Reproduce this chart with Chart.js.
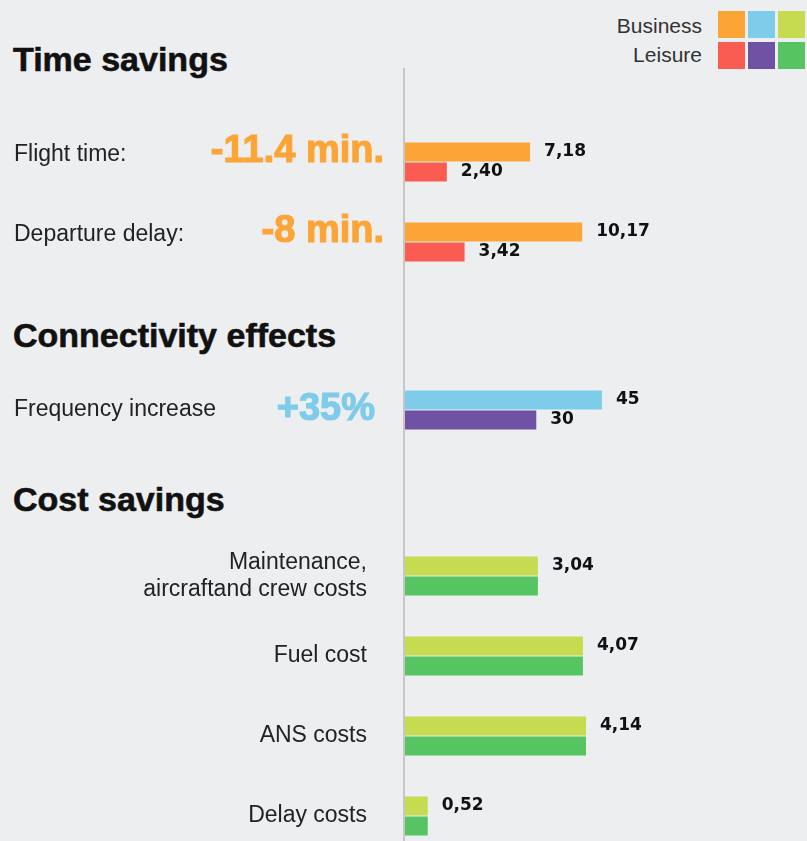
<!DOCTYPE html>
<html>
<head>
<meta charset="utf-8">
<script src="https://cdn.jsdelivr.net/npm/chart.js@4"></script>
<style>
  html, body { margin: 0; padding: 0; overflow: hidden; background: #EDEEF0; }
  #page { position: relative; width: 807px; height: 841px; overflow: hidden; background: #EDEEF0;
          font-family: 'Liberation Sans', Arial, sans-serif; color: #222; }
  .heading { position: absolute; left: 13px; font-weight: bold; font-size: 34px; line-height: 34px; color: #111;
             white-space: nowrap; -webkit-text-stroke: 0.6px #111; }
  .legend-text { position: absolute; right: 105px; font-size: 21px; line-height: 21px; color: #333; }
  .swatch { position: absolute; width: 27px; height: 27px; }
  .rule { position: absolute; left: 403px; top: 68px; width: 2px; height: 773px; background: #C6C6C6; }
  canvas { position: absolute; left: 0; }
</style>
</head>
<body>
<div id="page">
  <div class="rule"></div>
  <div class="heading" style="top:42px">Time savings</div>
  <div class="heading" style="top:318px">Connectivity effects</div>
  <div class="heading" style="top:482px">Cost savings</div>
  <div class="legend-text" style="top:15px">Business</div>
  <div class="legend-text" style="top:44px">Leisure</div>
  <div id="legend"></div>
  <canvas id="timeChart" width="807" height="160" style="top:122px"></canvas>
  <canvas id="connChart" width="807" height="80" style="top:370px"></canvas>
  <canvas id="costChart" width="807" height="320" style="top:536px"></canvas>
</div>
<script>
// --- data ---
const timeLabels = ["Flight time:", "Departure delay:"];
const timeBusiness = [7.18, 10.17];
const timeLeisure = [2.40, 3.42];
const timeHeadline = ["-11.4 min.", "-8 min."];

const connLabels = ["Frequency increase"];
const connBusiness = [45];
const connLeisure = [30];
const connHeadline = ["+35%"];

const costLabels = [["Maintenance,", "aircraftand crew costs"], "Fuel cost", "ANS costs", "Delay costs"];
const costBusiness = [3.04, 4.07, 4.14, 0.52];
const costLeisure = [3.04, 4.07, 4.14, 0.52];

const businessColors = ["#FCA537", "#7FCBEA", "#C6DB4F"];
const leisureColors = ["#FA5C52", "#7052A5", "#55C461"];

Chart.defaults.font.family = "'Liberation Sans', Arial, sans-serif";
Chart.defaults.animation = false;

// legend swatches
const legend = document.getElementById("legend");
[businessColors, leisureColors].forEach((row, r) => {
    row.forEach((c, i) => {
        const d = document.createElement("div");
        d.className = "swatch";
        d.style.left = (718 + i * 30) + "px";
        d.style.top = (11 + r * 31) + "px";
        d.style.background = c;
        legend.appendChild(d);
    });
});

// value labels + big headline numbers
const valueLabels = {
    id: "valueLabels",
    afterDatasetsDraw(chart, args, opts) {
        const ctx = chart.ctx;
        ctx.save();
        ctx.font = "bold 17px 'DejaVu Sans'";
        ctx.fillStyle = "#111";
        ctx.textBaseline = "middle";
        ctx.textAlign = "left";
        chart.data.datasets.forEach((ds, di) => {
            if (!opts.datasets.includes(di)) return;
            chart.getDatasetMeta(di).data.forEach((bar, i) => {
                const v = ds.data[i];
                const txt = opts.decimals ? v.toFixed(opts.decimals).replace(".", ",") : String(v);
                ctx.fillText(txt, bar.x + 14, bar.y);
            });
        });
        if (opts.headline) {
            const y = chart.scales.y;
            ctx.font = "bold 38px 'Liberation Sans'";
            ctx.fillStyle = opts.headlineColor;
            ctx.strokeStyle = opts.headlineColor;
            ctx.lineWidth = 1.2;
            ctx.textAlign = "right";
            opts.headline.forEach((t, i) => {
                const py = y.getPixelForTick(i) + opts.headlineDy;
                ctx.fillText(t, opts.headlineRight, py);
                ctx.strokeText(t, opts.headlineRight, py);
            });
        }
        ctx.restore();
    }
};

function makeChart(id, labels, business, leisure, colorIndex, xMax, tickOpts, labelOpts) {
    return new Chart(document.getElementById(id), {
        type: "bar",
        data: {
            labels,
            datasets: [
                { label: "Business", data: business, backgroundColor: businessColors[colorIndex] },
                { label: "Leisure", data: leisure, backgroundColor: leisureColors[colorIndex] }
            ]
        },
        options: {
            responsive: false,
            indexAxis: "y",
            categoryPercentage: 0.5,
            barPercentage: 0.95,
            layout: { padding: { left: 14, right: 2, top: 0, bottom: 0 } },
            scales: {
                x: { display: false, min: 0, max: xMax },
                y: {
                    grid: { display: false, drawTicks: false },
                    border: { display: false },
                    afterFit: scale => {
                        scale.width = 391;
                        scale.paddingTop = 0;
                        scale.paddingBottom = 0;
                    },
                    ticks: Object.assign({
                        color: "#222",
                        font: { size: 23, lineHeight: 1.15 }
                    }, tickOpts)
                }
            },
            plugins: {
                legend: { display: false },
                tooltip: { enabled: false },
                valueLabels: labelOpts
            }
        },
        plugins: [valueLabels]
    });
}

makeChart("timeChart", timeLabels, timeBusiness, timeLeisure, 0, 22.96,
    { crossAlign: "far", labelOffset: -7 },
    { datasets: [0, 1], decimals: 2, headline: timeHeadline, headlineColor: businessColors[0], headlineRight: 384, headlineDy: -10 });

makeChart("connChart", connLabels, connBusiness, connLeisure, 1, 91.4,
    { crossAlign: "far" },
    { datasets: [0, 1], decimals: 0, headline: connHeadline, headlineColor: businessColors[1], headlineRight: 375, headlineDy: 0 });

makeChart("costChart", costLabels, costBusiness, costLeisure, 2, 9.15,
    { crossAlign: "near", padding: 38 },
    { datasets: [0], decimals: 2 });
</script>
</body>
</html>
